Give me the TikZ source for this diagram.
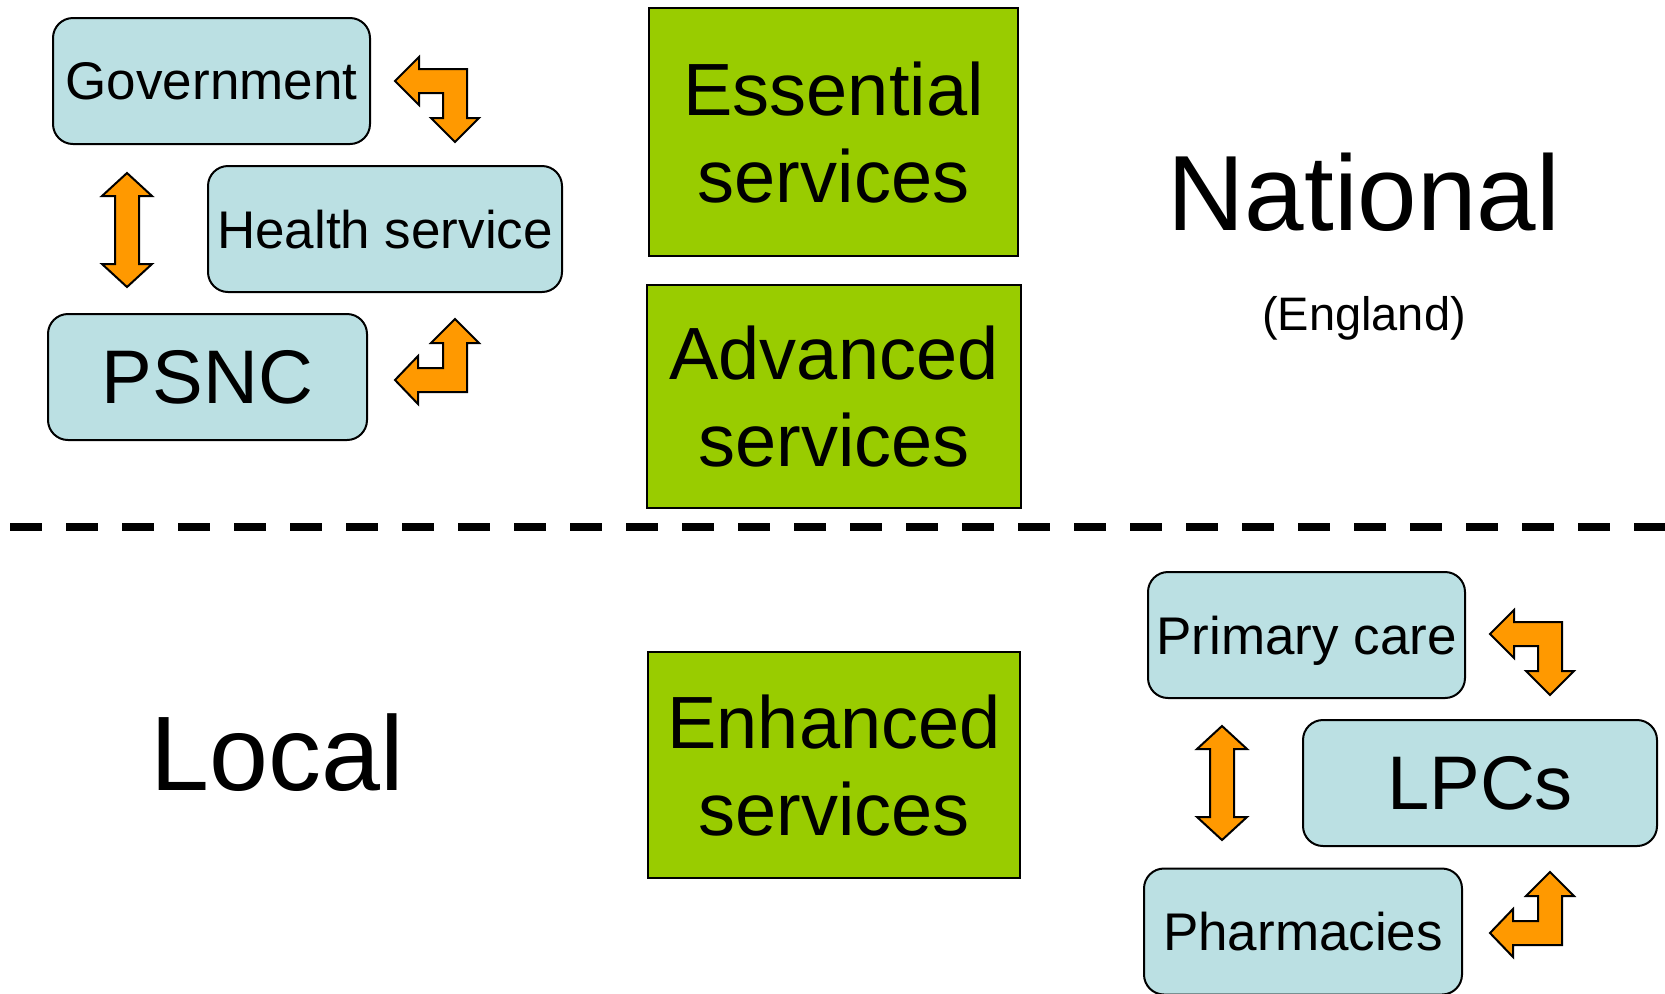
\documentclass[tikz,border=0pt]{standalone}
\usepackage{fontspec}
\setmainfont{Liberation Sans}
\definecolor{boxblue}{HTML}{BBE0E3}
\definecolor{svcgreen}{HTML}{99CC00}
\definecolor{arroworange}{HTML}{FF9900}

\begin{document}
\begin{tikzpicture}[x=0.5pt,y=-0.5pt,
	body/.style={draw=black, line width=1pt, fill=boxblue, rounded corners=10pt, inner sep=0pt, minimum height=63pt, text depth=0pt, font=\fontsize{26.5}{31}\selectfont},
	bigbody/.style={body, font=\fontsize{38}{46}\selectfont},
	service/.style={draw=black, line width=1pt, fill=svcgreen, inner sep=0pt, align=center, text depth=0pt, font=\fontsize{37}{43.5}\selectfont},
	turn/.style={draw=black, line width=1pt, fill=arroworange, line join=miter}]
			\useasboundingbox (0,0) rectangle (1665,993);

			% national bodies
			\node[body, minimum width=158.5pt] (gov) at (211.5,81) {Government};
			\node[body, minimum width=177pt] (health) at (385,229) {Health service};
			\node[bigbody, minimum width=159.5pt] (psnc) at (207.5,377) {PSNC};

			% local bodies
			\node[body, minimum width=158.5pt] (primary) at (1306.5,635) {Primary care};
			\node[bigbody, minimum width=177pt] (lpcs) at (1480,783) {LPCs};
			\node[body, minimum width=159pt] (pharm) at (1303,931.5) {Pharmacies};

			% services
			\node[service, minimum width=184.5pt, minimum height=124pt] (essential) at (833.5,132) {Essential\\services};
			\node[service, minimum width=187pt, minimum height=111.5pt] (advanced) at (834,396.5) {Advanced\\services};
			\node[service, minimum width=186pt, minimum height=113pt] (enhanced) at (834,765) {Enhanced\\services};

			% level labels
			\node[anchor=base, font=\fontsize{53.5}{64}\selectfont] (national) at (1364,230) {National};
			\node[anchor=base, font=\fontsize{23.5}{28}\selectfont] (england) at (1364,330) {(England)};
			\node[anchor=base, font=\fontsize{53}{63}\selectfont] (local) at (277,790) {Local};

			% divider
			\draw[line width=4pt, dash pattern=on 16pt off 12pt] (10,527) -- (1665,527);

			% arrows, national
			\draw[turn] (395,81) -- (419,57) -- (419,69) -- (467,69) -- (467,118) -- (479,118) -- (455,142) -- (431,118) -- (443,118) -- (443,93) -- (419,93) -- (419,105) -- cycle;
			\draw[turn] (455,319) -- (479,343) -- (467,343) -- (467,392) -- (418,392) -- (418,404) -- (395,380) -- (418,356) -- (418,368) -- (443,368) -- (443,343) -- (431,343) -- cycle;
			\draw[turn] (127,173) -- (152,196) -- (139,196) -- (139,264) -- (152,264) -- (127,287) -- (102,264) -- (115,264) -- (115,196) -- (102,196) -- cycle;

			% arrows, local
			\begin{scope}[shift={(1095,553)}]
			\draw[turn] (395,81) -- (419,57) -- (419,69) -- (467,69) -- (467,118) -- (479,118) -- (455,142) -- (431,118) -- (443,118) -- (443,93) -- (419,93) -- (419,105) -- cycle;
			\draw[turn] (455,319) -- (479,343) -- (467,343) -- (467,392) -- (418,392) -- (418,404) -- (395,380) -- (418,356) -- (418,368) -- (443,368) -- (443,343) -- (431,343) -- cycle;
			\draw[turn] (127,173) -- (152,196) -- (139,196) -- (139,264) -- (152,264) -- (127,287) -- (102,264) -- (115,264) -- (115,196) -- (102,196) -- cycle;
			\end{scope}
		\end{tikzpicture}
\end{document}
